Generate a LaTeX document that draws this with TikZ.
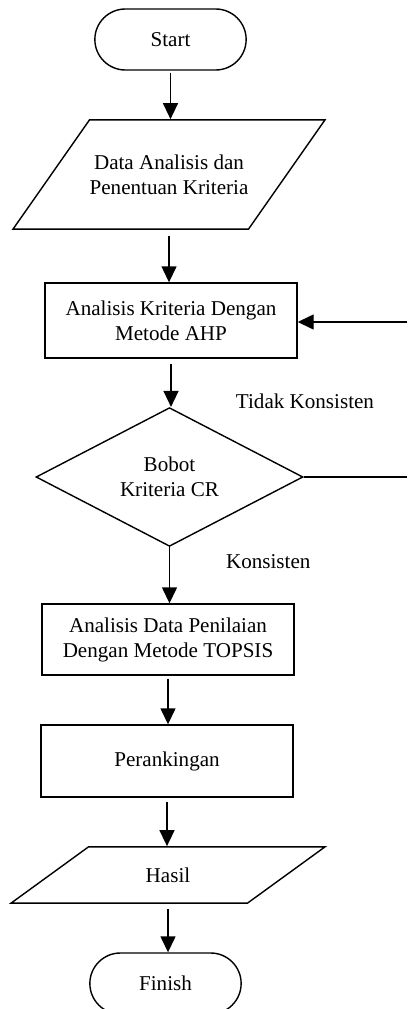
\documentclass[tikz,border=0pt]{standalone}
\usepackage{fontspec}
\setmainfont{Liberation Serif}
\usepackage{tikz}
\usetikzlibrary{shapes.geometric, shapes.misc, arrows.meta, positioning, calc}

\begin{document}
\begin{tikzpicture}[
    terminal/.style={rounded rectangle, draw=black, thick, minimum width=3.26cm, minimum height=1.22cm, align=center, font=\fontsize{12}{14.2}\selectfont},
    process/.style={rectangle, draw=black, thick, minimum width=5.04cm, align=center, font=\fontsize{12}{14.2}\selectfont},
    io/.style={trapezium, trapezium stretches body=true, draw=black, thick, align=center, inner xsep=0pt, font=\fontsize{12}{14.2}\selectfont},
    decision/.style={diamond, draw=black, thick, minimum width=5.34cm, minimum height=2.54cm, inner sep=0pt, align=center, font=\fontsize{12}{14.2}\selectfont},
    arrow/.style={-{Triangle[length=0.32cm, width=0.3cm]}, thick, black},
    line/.style={thick, black},
    label/.style={font=\fontsize{12}{14.2}\selectfont}
]

\useasboundingbox (0, 0) rectangle (8.14, -20.18);

% Terminals
\node[terminal] (start) at (3.41, -0.79) {Start};
\node[terminal] (finish) at (3.31, -19.67) {Finish};

% Input / output
\node[io, trapezium left angle=55, trapezium right angle=125, minimum width=6.24cm, inner ysep=0.695cm] (data) at (3.38, -3.49) {Data Analisis dan\\Penentuan Kriteria};
\node[io, trapezium left angle=36, trapezium right angle=144, minimum width=6.28cm, inner ysep=0.415cm] (hasil) at (3.36, -17.5) {Hasil};

% Processes
\node[process, minimum height=1.5cm] (ahp) at (3.42, -6.41) {Analisis Kriteria Dengan\\Metode AHP};
\node[decision] (cr) at (3.39, -9.54) {Bobot\\Kriteria CR};
\node[process, minimum height=1.42cm] (topsis) at (3.36, -12.79) {Analisis Data Penilaian\\Dengan Metode TOPSIS};
\node[process, minimum height=1.44cm] (rank) at (3.34, -15.22) {Perankingan};

% Loop ends
\coordinate (loopB) at (8.14, -9.54);
\coordinate (loopT) at (8.14, -6.44);

% Main flow
\draw[arrow] ($(start.south)+(0,-0.04)$) -- (start.south |- data.north);
\draw[arrow] ($(data.south)+(0,-0.12)$) -- (data.south |- ahp.north);
\draw[arrow] ($(ahp.south)+(0,-0.1)$) -- (ahp.south |- cr.north);
\draw[arrow] (cr.south) -- node[label, right=1cm, pos=0.25] {Konsisten} (cr.south |- topsis.north);
\draw[arrow] ($(topsis.south)+(0,-0.06)$) -- (topsis.south |- rank.north);
\draw[arrow] ($(rank.south)+(0,-0.08)$) -- (rank.south |- hasil.north);
\draw[arrow] ($(hasil.south)+(0,-0.1)$) -- (hasil.south |- finish.north);

% Not consistent: back to AHP
\draw[line] (cr.east) -- (loopB);
\draw[arrow] (loopT) -- (loopT -| ahp.east);
\node[label] (tidak) at (6.1, -8.02) {Tidak Konsisten};

\end{tikzpicture}
\end{document}
